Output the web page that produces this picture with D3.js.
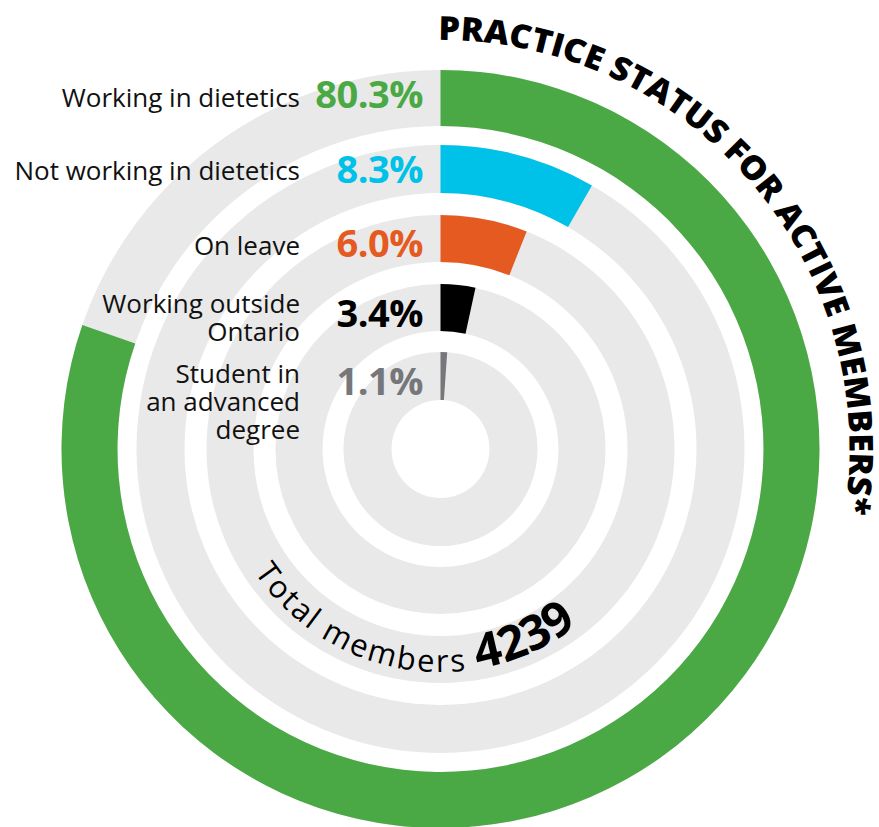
<!DOCTYPE html>
<html>
<head>
<meta charset="utf-8">
<script src="https://cdn.jsdelivr.net/npm/d3@7"></script>
<style>
  html, body { margin: 0; padding: 0; background: #ffffff; }
  svg { display: block; }
  text { font-family: "Open Sans", "Noto Sans", sans-serif; }
</style>
</head>
<body>
<svg id="chart" width="879" height="827"></svg>
<script>
// ---------------- data ----------------
const categories = ["Working in dietetics", "Not working in dietetics", "On leave", "Working outside Ontario", "Student in an advanced degree"];
const labelLines = [["Working in dietetics"], ["Not working in dietetics"], ["On leave"], ["Working outside", "Ontario"], ["Student in", "an advanced", "degree"]];
const values = [80.3, 8.3, 6.0, 3.4, 1.1];
const valueLabels = ["80.3%", "8.3%", "6.0%", "3.4%", "1.1%"];
const colors = ["#4aa944", "#00c1e7", "#e55a21", "#000000", "#76777a"];
const totalLabel = "Total members";
const totalValue = "4239";
const title = "PRACTICE STATUS FOR ACTIVE MEMBERS*";

// ---------------- layout ----------------
const W = 879, H = 827;
const cx = 440.5, cy = 449;
const rings = [[379, 323], [304, 256], [234, 187], [165, 118], [97, 49]]; // [outer, inner]
const trackColor = "#e9e9e9";
const labelX = 300, pctX = 423;
const labelBaseY = [107, 180, 255, 313, 383];
const pctBaseY = [108, 183, 257, 327, 395];
const lineH = 28;

const svg = d3.select("#chart");
const defs = svg.append("defs");
const g = svg.append("g").attr("transform", `translate(${cx},${cy})`);

const angle = d3.scaleLinear().domain([0, 100]).range([0, 2 * Math.PI]);
const arc = d3.arc();

// tracks
g.selectAll("path.track").data(rings).join("path")
  .attr("class", "track")
  .attr("fill", trackColor)
  .attr("d", d => arc({innerRadius: d[1], outerRadius: d[0], startAngle: 0, endAngle: 2 * Math.PI}));

// value bars
g.selectAll("path.bar").data(values).join("path")
  .attr("class", "bar")
  .attr("fill", (d, i) => colors[i])
  .attr("d", (d, i) => arc({innerRadius: rings[i][1], outerRadius: rings[i][0], startAngle: 0, endAngle: angle(d)}));

// category labels
values.forEach((v, i) => {
  labelLines[i].forEach((ln, j) => {
    svg.append("text")
      .attr("x", labelX).attr("y", labelBaseY[i] + j * lineH)
      .attr("text-anchor", "end")
      .attr("font-size", 26)
      .attr("fill", "#111")
      .text(ln);
  });
  svg.append("text")
    .attr("x", pctX).attr("y", pctBaseY[i])
    .attr("text-anchor", "end")
    .attr("font-size", 38)
    .attr("font-weight", 700)
    .attr("letter-spacing", -0.5)
    .attr("fill", colors[i])
    .text(valueLabels[i]);
});

// helpers
const deg = Math.PI / 180;
const pt = (r, a) => [cx + r * Math.sin(a * deg), cy - r * Math.cos(a * deg)];

// title on arc (clockwise, top-right)
const tR = 409, tA0 = -2, tA1 = 112, tStart = -0.3, tEnd = 99;
const p0 = pt(tR, tA0), p1 = pt(tR, tA1);
defs.append("path").attr("id", "titlePath")
  .attr("d", `M${p0[0]},${p0[1]} A${tR},${tR} 0 0 1 ${p1[0]},${p1[1]}`);
svg.append("text")
  .attr("font-size", 33)
  .attr("font-weight", 800)
  .attr("fill", "#000")
  .append("textPath")
  .attr("href", "#titlePath")
  .attr("startOffset", tR * (tStart - tA0) * deg)
  .attr("textLength", tR * (tEnd - tStart) * deg)
  .attr("lengthAdjust", "spacingAndGlyphs")
  .text(title);

// total members on arc (bottom, counter-clockwise)
const bR = 223, bA0 = 240, bA1 = 120, bStart = 236.5;
const q0 = pt(bR, bA0), q1 = pt(bR, bA1);
defs.append("path").attr("id", "totalPath")
  .attr("d", `M${q0[0]},${q0[1]} A${bR},${bR} 0 0 0 ${q1[0]},${q1[1]}`);
const tp = svg.append("text")
  .attr("fill", "#000")
  .append("textPath")
  .attr("href", "#totalPath")
  .attr("startOffset", bR * (bA0 - bStart) * deg);
tp.append("tspan").attr("font-size", 31).attr("letter-spacing", 2.2).text(totalLabel + " ");
tp.append("tspan").attr("font-size", 48).attr("font-weight", 700).attr("letter-spacing", 0).text(totalValue);
</script>
</body>
</html>
